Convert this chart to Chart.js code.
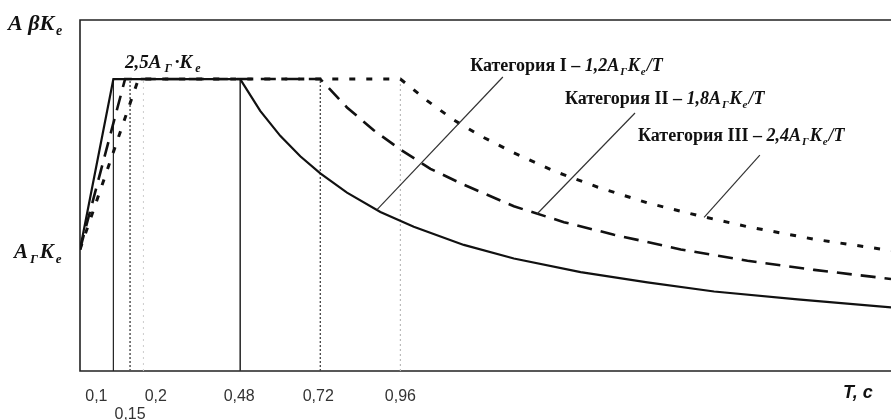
<!DOCTYPE html>
<html>
<head>
<meta charset="utf-8">
<script src="https://cdn.jsdelivr.net/npm/chart.js@4.4.1/dist/chart.umd.min.js"></script>
<style>
  html, body { margin: 0; padding: 0; background: #fff; }
  #wrap { width: 891px; height: 420px; }
</style>
</head>
<body>
<div id="wrap"><canvas id="spectrum" width="891" height="420"></canvas></div>
<script>
"use strict";

// categories and their coefficient for the descending branch
var categories = ["Категория I", "Категория II", "Категория III"];
var coefLabels = ["1,2", "1,8", "2,4"];

// period T (s) and spectrum values
var periodsI = [0, 0.1, 0.48, 0.54, 0.6, 0.66, 0.72, 0.8, 0.9, 1.0, 1.15, 1.3, 1.5, 1.7, 1.9, 2.15, 2.43];
var valuesI  = [1, 2.5, 2.5, 2.22, 2.0, 1.82, 1.67, 1.5, 1.33, 1.2, 1.04, 0.92, 0.8, 0.71, 0.63, 0.56, 0.49];

var periodsII = [0, 0.135, 0.72, 0.8, 0.88, 0.96, 1.05, 1.15, 1.3, 1.45, 1.6, 1.8, 2.0, 2.2, 2.43];
var valuesII  = [1, 2.5, 2.5, 2.25, 2.05, 1.88, 1.71, 1.57, 1.38, 1.24, 1.13, 1.0, 0.9, 0.82, 0.74];

var periodsIII = [0, 0.175, 0.96, 1.04, 1.12, 1.2, 1.3, 1.42, 1.55, 1.7, 1.85, 2.0, 2.2, 2.43];
var valuesIII  = [1, 2.5, 2.5, 2.31, 2.14, 2.0, 1.85, 1.69, 1.55, 1.41, 1.3, 1.2, 1.09, 0.99];

// x tick labels
var tickValues = [0.1, 0.15, 0.2, 0.48, 0.72, 0.96];
var tickLabels = ["0,1", "0,15", "0,2", "0,48", "0,72", "0,96"];

// vertical guide lines up to the plateau
var guidePeriods = [0.1, 0.15, 0.19, 0.48, 0.72, 0.96];
var plateau = 2.5;

var X_MIN = 0, X_MAX = 2.43, Y_MIN = -0.07, Y_MAX = 3.02;

function pts(xs, ys) {
    return xs.map(function (x, i) { return { x: x, y: ys[i] }; });
}

// ------------------------------------------------------- //
// rich text: [text, kind] kind = n (bold), i (bold italic), s (subscript)
// ------------------------------------------------------ //
function drawRich(ctx, parts, x, y, size, family, gap) {
    gap = gap || 0;
    ctx.textBaseline = "alphabetic";
    ctx.textAlign = "left";
    parts.forEach(function (p) {
        var txt = p[0], kind = p[1];
        var dy = 0, sz = size, style = "italic bold ";
        if (kind === "n") style = "bold ";
        if (kind === "s") { sz = Math.round(size * 0.62); dy = size * 0.22; x += gap; }
        ctx.font = style + sz + "px " + family;
        ctx.fillText(txt, x, y + dy);
        x += ctx.measureText(txt).width + (kind === "s" ? gap : 0);
    });
}

var guideStyles = [
    { color: "#222", width: 1.2, dash: [] },
    { color: "#555", width: 1.5, dash: [2, 2] },
    { color: "#ccc", width: 1, dash: [2, 4] },
    { color: "#333", width: 1.6, dash: [] },
    { color: "#444", width: 1.3, dash: [2, 2] },
    { color: "#bbb", width: 1.2, dash: [2, 3] }
];

var datasets = [
    {
        label: categories[0], data: pts(periodsI, valuesI),
        borderColor: "#111", borderWidth: 2.2, borderDash: [],
        pointRadius: 0, tension: 0, fill: false
    },
    {
        label: categories[1], data: pts(periodsII, valuesII),
        borderColor: "#111", borderWidth: 2.6, borderDash: [15, 9],
        pointRadius: 0, tension: 0, fill: false
    },
    {
        label: categories[2], data: pts(periodsIII, valuesIII),
        borderColor: "#111", borderWidth: 3, borderDash: [6, 11],
        pointRadius: 0, tension: 0, fill: false
    }
];

guidePeriods.forEach(function (t, i) {
    var st = guideStyles[i];
    datasets.push({
        label: "guide" + i,
        data: [{ x: t, y: Y_MIN }, { x: t, y: plateau }],
        borderColor: st.color, borderWidth: st.width, borderDash: st.dash,
        pointRadius: 0, tension: 0, fill: false
    });
});

// ------------------------------------------------------- //
// frame, tick labels, axis captions and category notes
// ------------------------------------------------------ //
var decorPlugin = {
    id: "decor",
    beforeDatasetsDraw: function (chart) {
        var ctx = chart.ctx, a = chart.chartArea;
        ctx.save();
        ctx.strokeStyle = "#222";
        ctx.lineWidth = 1.6;
        ctx.beginPath();
        ctx.moveTo(chart.width, a.top);
        ctx.lineTo(a.left, a.top);
        ctx.lineTo(a.left, a.bottom);
        ctx.lineTo(chart.width, a.bottom);
        ctx.stroke();
        ctx.restore();
    },
    afterDraw: function (chart) {
        var ctx = chart.ctx, a = chart.chartArea;
        var xs = chart.scales.x, ys = chart.scales.y;
        ctx.save();

        // x tick labels (0,15 sits on a second row)
        var nudge = [-17, 0, 9, -1, -2, 0];
        ctx.fillStyle = "#333";
        ctx.font = "16px 'Liberation Sans', Arial, sans-serif";
        ctx.textAlign = "center";
        ctx.textBaseline = "alphabetic";
        tickValues.forEach(function (v, i) {
            var row = tickLabels[i] === "0,15" ? 1 : 0;
            ctx.fillText(tickLabels[i], xs.getPixelForValue(v) + nudge[i], a.bottom + 30 + row * 18);
        });
        ctx.fillStyle = "#111";
        ctx.font = "italic bold 18px 'Liberation Sans', Arial, sans-serif";
        ctx.textAlign = "left";
        ctx.fillText("T, c", 843, a.bottom + 27);

        // y captions
        var serif = "'Liberation Serif', 'Times New Roman', serif";
        ctx.fillStyle = "#111";
        drawRich(ctx, [["A", "i"], [" β", "i"], ["K", "i"], ["e", "s"]], 8, 30, 22, serif, 2);
        drawRich(ctx, [["A", "i"], ["Г", "s"], ["K", "i"], ["e", "s"]], 14, ys.getPixelForValue(1) + 9, 21, serif, 2);
        drawRich(ctx, [["2,5A", "i"], ["Г", "s"], ["·K", "i"], ["e", "s"]],
            xs.getPixelForValue(0.135), ys.getPixelForValue(2.6), 19, serif, 3);

        // category notes with leader lines
        var notes = [
            { tx: 1.169, ty: 2.571, from: [1.267, 2.518], to: [0.89, 1.35] },
            { tx: 1.453, ty: 2.28, from: [1.663, 2.201], to: [1.37, 1.314] },
            { tx: 1.672, ty: 1.955, from: [2.037, 1.831], to: [1.87, 1.283] }
        ];
        notes.forEach(function (n, i) {
            ctx.strokeStyle = "#333";
            ctx.lineWidth = 1.2;
            ctx.setLineDash([]);
            ctx.beginPath();
            ctx.moveTo(xs.getPixelForValue(n.from[0]), ys.getPixelForValue(n.from[1]));
            ctx.lineTo(xs.getPixelForValue(n.to[0]), ys.getPixelForValue(n.to[1]));
            ctx.stroke();
            ctx.fillStyle = "#111";
            drawRich(ctx, [[categories[i] + " – ", "n"], [coefLabels[i] + "A", "i"], ["Г", "s"],
                ["K", "i"], ["e", "s"], ["/T", "i"]],
                xs.getPixelForValue(n.tx), ys.getPixelForValue(n.ty), 18, serif, 1);
        });
        ctx.restore();
    }
};

var CANVAS = document.getElementById("spectrum");
var spectrumChart = new Chart(CANVAS, {
    type: "line",
    data: { datasets: datasets },
    plugins: [decorPlugin],
    options: {
        responsive: false,
        animation: false,
        layout: { padding: { left: 80, top: 20, right: 0, bottom: 49 } },
        plugins: { legend: { display: false }, tooltip: { enabled: false } },
        scales: {
            x: { type: "linear", min: X_MIN, max: X_MAX, display: false },
            y: { type: "linear", min: Y_MIN, max: Y_MAX, display: false }
        }
    }
});
</script>
</body>
</html>
